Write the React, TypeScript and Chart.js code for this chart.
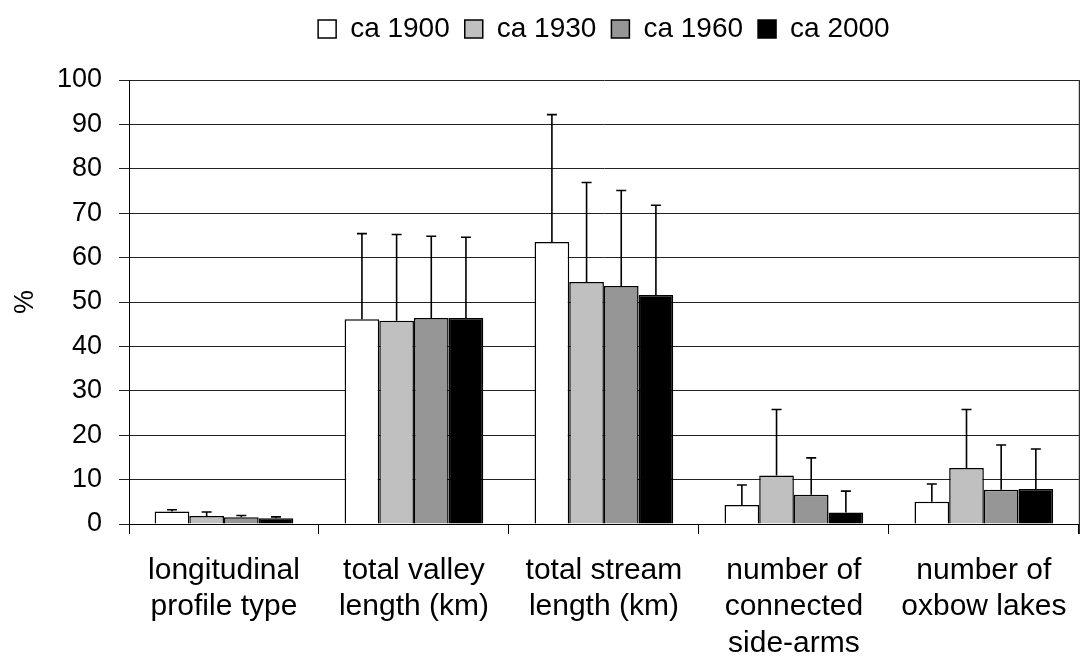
import React, { useEffect, useRef } from "react";
import { Chart, registerables } from "chart.js";

Chart.register(...registerables);

const categories: string[][] = [
  ["longitudinal", "profile type"],
  ["total valley", "length (km)"],
  ["total stream", "length (km)"],
  ["number of", "connected", "side-arms"],
  ["number of", "oxbow lakes"],
];

const seriesNames = ["ca 1900", "ca 1930", "ca 1960", "ca 2000"];
const seriesColors = ["#ffffff", "#c0c0c0", "#969696", "#000000"];

const values1900 = [2.8, 46.1, 63.5, 4.3, 5.0];
const values1930 = [1.8, 45.8, 54.5, 10.9, 12.6];
const values1960 = [1.5, 46.4, 53.6, 6.6, 7.7];
const values2000 = [1.3, 46.4, 51.6, 2.6, 7.9];

// upper end of the error bars
const errTop1900 = [3.2, 65.4, 92.2, 8.8, 9.0];
const errTop1930 = [2.7, 65.2, 76.9, 25.8, 25.8];
const errTop1960 = [1.9, 64.8, 75.1, 14.9, 17.8];
const errTop2000 = [1.6, 64.6, 71.8, 7.4, 16.9];

const yTicks = [0, 10, 20, 30, 40, 50, 60, 70, 80, 90, 100];

const allValues = [values1900, values1930, values1960, values2000];
const allErrTops = [errTop1900, errTop1930, errTop1960, errTop2000];

const FONT = "'Liberation Sans', Arial, Helvetica, sans-serif";

const legendSpacePlugin = {
  id: "legendSpace",
  afterInit(chart: any) {
    const legend = chart.legend;
    if (!legend) return;
    const orig = legend.fit;
    legend.fit = function (this: any) {
      orig.call(this);
      this.height += 27;
    };
  },
};

const errorBarPlugin = {
  id: "errorBars",
  afterDatasetsDraw(chart: any) {
    const ctx = chart.ctx;
    const yScale = chart.scales.y;
    ctx.save();
    ctx.strokeStyle = "#000";
    ctx.lineWidth = 1.6;
    chart.data.datasets.forEach((ds: any, i: number) => {
      const meta = chart.getDatasetMeta(i);
      meta.data.forEach((el: any, j: number) => {
        const top = ds.errTop[j];
        const yTop = yScale.getPixelForValue(top);
        const x = el.x;
        ctx.beginPath();
        ctx.moveTo(x, el.y);
        ctx.lineTo(x, yTop);
        ctx.moveTo(x - 5, yTop);
        ctx.lineTo(x + 5, yTop);
        ctx.stroke();
      });
    });
    // right frame line
    const a = chart.chartArea;
    ctx.lineWidth = 1;
    ctx.beginPath();
    ctx.moveTo(a.right + 0.5, a.top);
    ctx.lineTo(a.right + 0.5, a.bottom + 10);
    ctx.stroke();
    ctx.restore();
  },
};

export default function App() {
  const canvasRef = useRef<HTMLCanvasElement | null>(null);

  useEffect(() => {
    if (!canvasRef.current) return;
    const chart = new Chart(canvasRef.current, {
      type: "bar",
      data: {
        labels: categories,
        datasets: seriesNames.map((name, i) => ({
          label: name,
          data: allValues[i],
          errTop: allErrTops[i],
          backgroundColor: seriesColors[i],
          borderColor: "#000",
          borderWidth: 1.5,
          categoryPercentage: 0.73,
          barPercentage: 1,
        })) as any,
      },
      options: {
        animation: false,
        responsive: true,
        maintainAspectRatio: false,
        layout: { padding: { top: 0, right: 2, left: 0, bottom: 0 } },
        plugins: {
          tooltip: { enabled: false },
          legend: {
            position: "top",
            fullSize: false,
            labels: {
              color: "#000",
              font: { family: FONT, size: 28 },
              boxWidth: 18,
              boxHeight: 18,
              padding: 15,
            },
          },
        },
        scales: {
          x: {
            offset: true,
            afterFit: (s: any) => {
              s.height = 135;
            },
            grid: {
              display: true,
              offset: true,
              drawOnChartArea: false,
              drawTicks: true,
              tickLength: 10,
              color: "#000",
            },
            border: { display: true, color: "#000", width: 1 },
            ticks: {
              color: "#000",
              font: { family: FONT, size: 30, lineHeight: 1.22 },
              padding: 18,
              maxRotation: 0,
              autoSkip: false,
            },
          },
          y: {
            min: 0,
            max: 100,
            afterFit: (s: any) => {
              s.width = 129;
            },
            afterBuildTicks: (s: any) => {
              s.ticks = yTicks.map((v) => ({ value: v }));
            },
            grid: {
              color: "#222",
              lineWidth: 1,
              drawTicks: true,
              tickLength: 10,
            },
            border: { display: true, color: "#000", width: 1 },
            ticks: {
              color: "#000",
              font: { family: FONT, size: 27 },
              padding: 17,
            },
            title: {
              display: true,
              text: "%",
              color: "#000",
              font: { family: FONT, size: 27 },
              padding: { top: 9, bottom: 0 },
            },
          },
        },
      },
      plugins: [legendSpacePlugin, errorBarPlugin],
    } as any);
    return () => chart.destroy();
  }, []);

  return (
    <div style={{ position: "absolute", left: 0, top: 0, width: 1085, height: 659, background: "#fff" }}>
      <canvas ref={canvasRef} />
    </div>
  );
}
